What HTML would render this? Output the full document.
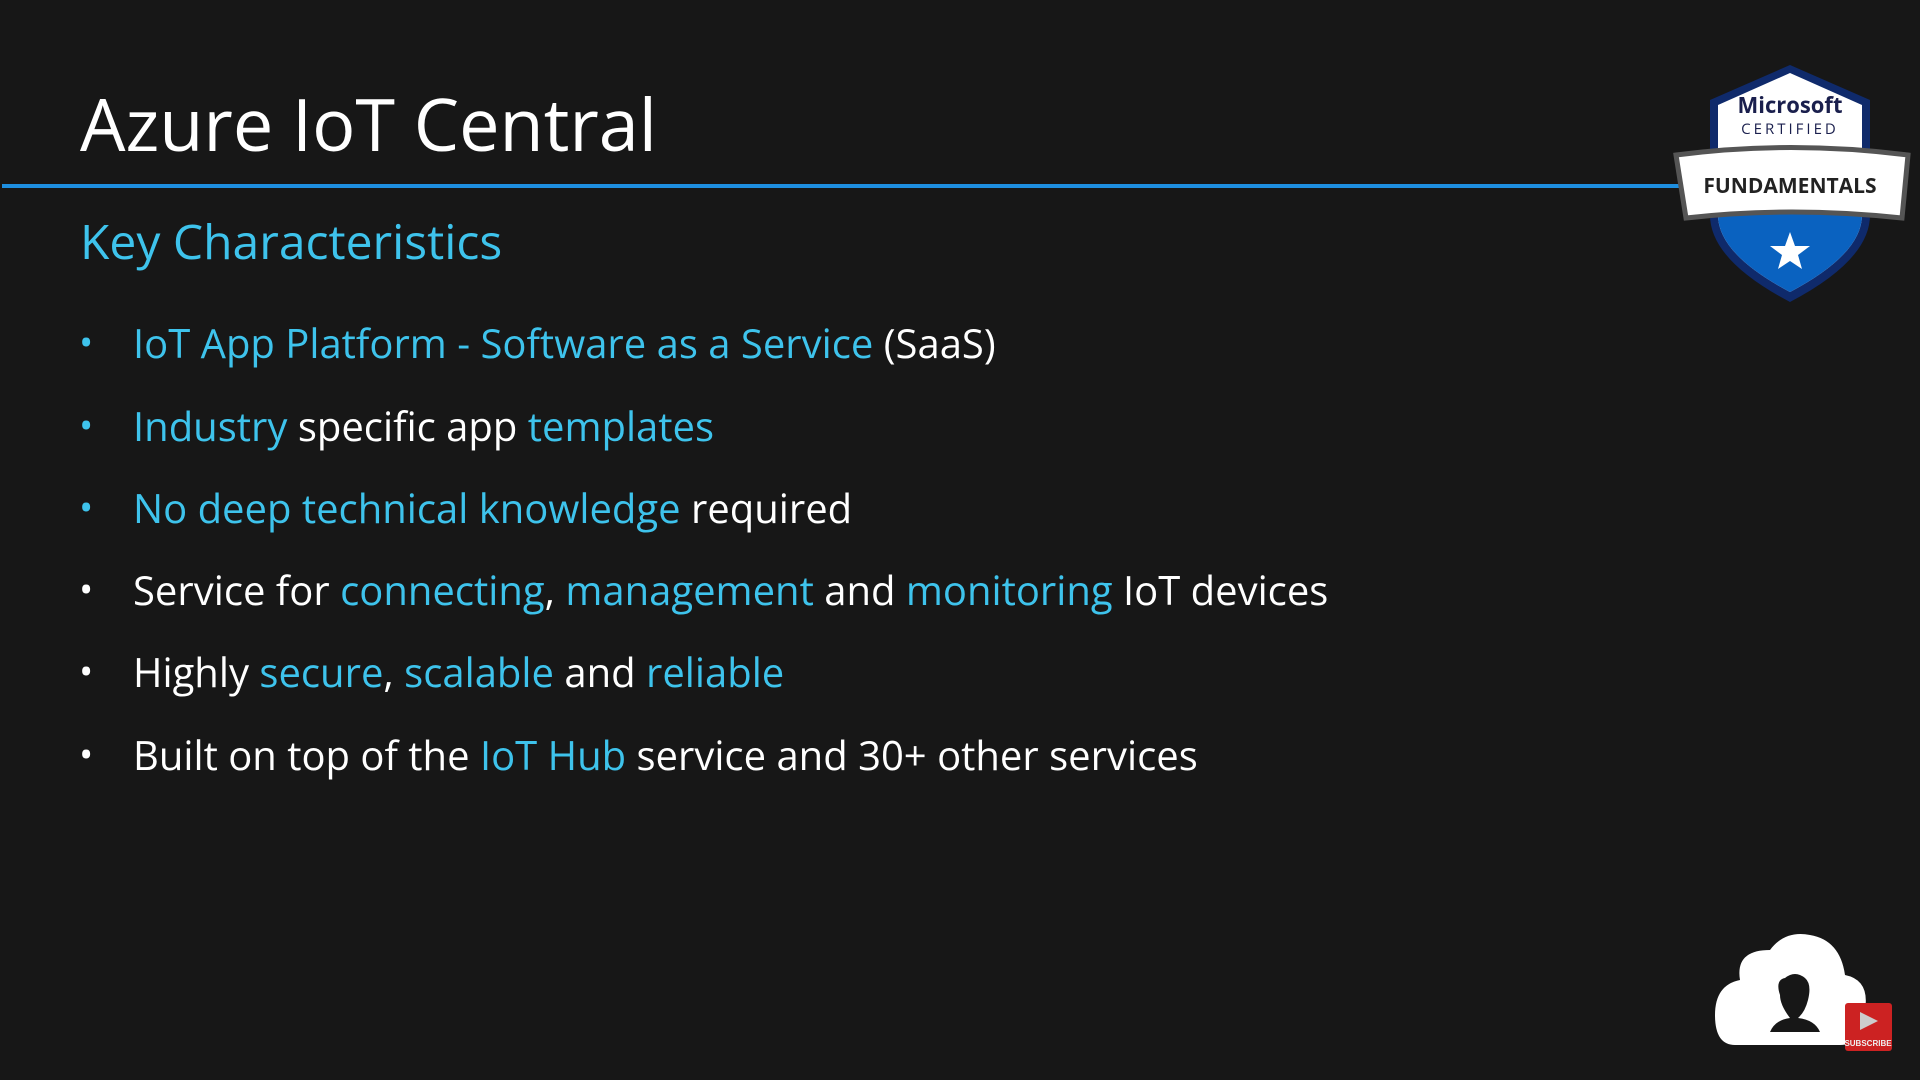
<!DOCTYPE html>
<html><head><meta charset="utf-8"><style>
html,body{margin:0;padding:0;background:#171717;width:1920px;height:1080px;overflow:hidden}
body{position:relative;font-family:"Open Sans","Liberation Sans",sans-serif;color:#fff}
.t{position:absolute;left:80px;top:88px;font-size:72px;white-space:nowrap;line-height:1}
.line{position:absolute;left:2px;top:184px;width:1690px;height:4px;background:#1e8fe0}
.k{position:absolute;left:80px;top:218px;font-size:48px;color:#3ec3ec;line-height:1;white-space:nowrap}
.b{position:absolute;left:133px;font-size:40px;line-height:1;white-space:nowrap}
.b:before{content:"•";position:absolute;left:-54px;font-size:38px;top:0px}
.c{color:#3ec3ec}
.cb:before{color:#3ec3ec}
</style></head><body>
<div class="t">Azure IoT Central</div>
<div class="line"></div>
<div class="k">Key Characteristics</div>
<div class="b cb" style="top:323px"><span class="c">IoT App Platform - Software as a Service</span> (SaaS)</div>
<div class="b cb" style="top:406px"><span class="c">Industry</span> specific app <span class="c">templates</span></div>
<div class="b cb" style="top:488px"><span class="c">No deep technical knowledge</span> required</div>
<div class="b" style="top:570px">Service for <span class="c">connecting</span>, <span class="c">management</span> and <span class="c">monitoring</span> IoT devices</div>
<div class="b" style="top:652px">Highly <span class="c">secure</span>, <span class="c">scalable</span> and <span class="c">reliable</span></div>
<div class="b" style="top:735px">Built on top of the <span class="c">IoT Hub</span> service and 30+ other services</div>

<svg style="position:absolute;left:1640px;top:40px" width="280" height="280" viewBox="0 0 280 280">
<path d="M70 60 L150 25 L230 60 L230 175 Q230 220 150 262 Q70 220 70 175 Z" fill="#0f2a6b"/>
<path d="M78 65 L150 33 L222 65 L222 175 Q222 214 150 252 Q78 214 78 175 Z" fill="#fff"/>
<path d="M78 150 L222 150 L222 175 Q222 214 150 252 Q78 214 78 175 Z" fill="#0a62c0"/>
<text x="150" y="73" text-anchor="middle" font-family="Open Sans,Liberation Sans,sans-serif" font-weight="bold" font-size="22" fill="#1a1f4d">Microsoft</text>
<text x="150" y="94" text-anchor="middle" font-family="Open Sans,Liberation Sans,sans-serif" font-size="15" letter-spacing="3" fill="#1a1f4d">CERTIFIED</text>
<path d="M36 115 Q150 100 268 115 L262 178 Q150 166 46 178 Z" fill="#fff" stroke="#555" stroke-width="5"/>
<text x="150" y="153" text-anchor="middle" font-family="Open Sans,Liberation Sans,sans-serif" font-weight="bold" font-size="21" fill="#222">FUNDAMENTALS</text>
<polygon points="150,192 155,206 170,206 158,215 162,229 150,221 138,229 142,215 130,206 145,206" fill="#fff"/>
</svg>

<svg style="position:absolute;left:1680px;top:900px" width="240" height="180" viewBox="0 0 240 180">
<path d="M55 145 Q35 145 35 115 Q35 85 60 80 Q55 50 90 50 Q105 30 130 35 Q160 40 165 75 Q190 80 185 110 Q185 145 160 145 Z" fill="#fff"/>
<path d="M90 132 Q95 120 110 118 Q100 105 100 95 Q95 80 105 78 Q115 70 125 78 Q132 84 128 100 Q125 112 118 118 Q135 120 140 132 Z" fill="#171717"/>
<rect x="165" y="103" width="47" height="48" rx="3" fill="#c22"/>
<polygon points="180,112 180,130 198,121" fill="#ccc"/>
<text x="188" y="146" text-anchor="middle" font-family="Liberation Sans,sans-serif" font-weight="bold" font-size="8" fill="#eee">SUBSCRIBE</text>
</svg>
</body></html>
